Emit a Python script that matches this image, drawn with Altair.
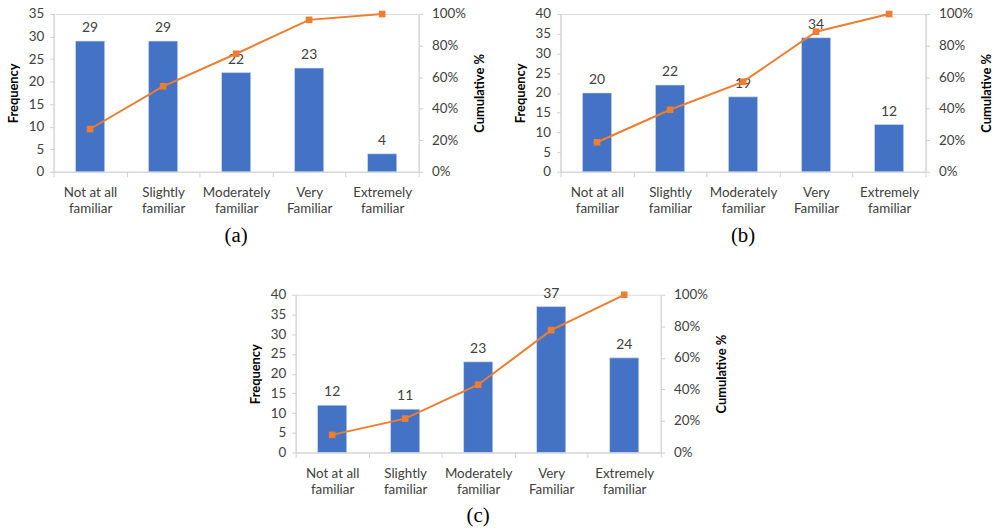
import altair as alt
import pandas as pd

# Response categories shared by all three panels
categories = [
    "Not at all familiar",
    "Slightly familiar",
    "Moderately familiar",
    "Very Familiar",
    "Extremely familiar",
]

# Frequencies per panel
freq_a = [29, 29, 22, 23, 4]
freq_b = [20, 22, 19, 34, 12]
freq_c = [12, 11, 23, 37, 24]

# Cumulative share per panel (0-1)
cum_a = [0.271, 0.542, 0.748, 0.963, 1.0]
cum_b = [0.187, 0.393, 0.570, 0.888, 1.0]
cum_c = [0.112, 0.215, 0.430, 0.776, 1.0]

# Left-axis maxima and captions
ymax = {"a": 35, "b": 40, "c": 40}
captions = {"a": "(a)", "b": "(b)", "c": "(c)"}

FONT = "Lato"
BAR = "#4472C4"
LINE = "#ED7D31"
AXIS_GREY = "#D0D0D0"
TEXT = "#404040"

PW, PH = 368, 159

label_expr = (
    "[slice(datum.label, 0, lastindexof(datum.label, ' ')), "
    "slice(datum.label, lastindexof(datum.label, ' ') + 1)]"
)


def panel(freq, cum, top, caption):
    df = pd.DataFrame({"cat": categories, "freq": freq, "cum": cum})
    x_enc = alt.X(
        "cat:N",
        sort=categories,
        scale=alt.Scale(paddingInner=0, paddingOuter=0),
        axis=alt.Axis(
            title=None,
            labelAngle=0,
            labelExpr=label_expr,
            labelFont=FONT,
            labelFontSize=13.5,
            labelColor=TEXT,
            labelPadding=9,
            labelLineHeight=16,
            tickBand="extent",
            tickColor=AXIS_GREY,
            tickSize=5,
            domainColor=AXIS_GREY,
        ),
    )
    y_left = alt.Y(
        "freq:Q",
        scale=alt.Scale(domain=[0, top], nice=False),
        axis=alt.Axis(
            title="Frequency",
            values=list(range(0, top + 1, 5)),
            grid=False,
            labelOverlap=False,
            labelFont=FONT,
            labelFontSize=13.5,
            labelColor=TEXT,
            labelPadding=6,
            tickColor=AXIS_GREY,
            tickSize=4,
            domainColor=AXIS_GREY,
            titleFont=FONT,
            titleFontSize=13,
            titleFontWeight="bold",
            titleColor="#000000",
            titlePadding=8,
        ),
    )
    y_right = alt.Y(
        "cum:Q",
        scale=alt.Scale(domain=[0, 1], nice=False),
        axis=alt.Axis(
            title="Cumulative %",
            orient="right",
            format=".0%",
            values=[0, 0.2, 0.4, 0.6, 0.8, 1.0],
            grid=False,
            labelOverlap=False,
            labelFont=FONT,
            labelFontSize=13.5,
            labelColor=TEXT,
            labelPadding=9,
            tickColor=AXIS_GREY,
            tickSize=4,
            domainColor=AXIS_GREY,
            titleFont=FONT,
            titleFontSize=13,
            titleFontWeight="bold",
            titleColor="#000000",
            titleAngle=270,
            titleBaseline="top",
            titlePadding=8,
        ),
    )
    left_base = alt.Chart(df).encode(x=x_enc, y=y_left)
    right_base = alt.Chart(df).encode(x=x_enc, y=y_right)

    bars = left_base.mark_bar(
        color=BAR, width=alt.RelativeBandSize(0.4), stroke="#DCE4F4", strokeWidth=0.6
    )
    nums = left_base.mark_text(
        font=FONT, fontSize=14, color=TEXT, dy=-13, baseline="middle"
    ).encode(text=alt.Text("freq:Q"))
    line = right_base.mark_line(color=LINE, strokeWidth=2)
    pts = right_base.mark_point(
        shape="square", filled=True, size=45, color=LINE, opacity=1
    )
    return (
        alt.layer(alt.layer(bars, nums), alt.layer(line, pts))
        .resolve_scale(y="independent")
        .properties(
            width=PW,
            height=PH,
            title=alt.TitleParams(
                caption,
                orient="bottom",
                anchor="middle",
                frame="group",
                font="Liberation Serif",
                fontSize=21,
                fontWeight="normal",
                color="#000000",
                offset=10,
            ),
        )
    )


pa = panel(freq_a, cum_a, ymax["a"], captions["a"])
pb = panel(freq_b, cum_b, ymax["b"], captions["b"])
pc = panel(freq_c, cum_c, ymax["c"], captions["c"])

# Invisible block that pushes the bottom panel towards the centre
spacer = (
    alt.Chart(pd.DataFrame({"v": [0]}))
    .mark_point(opacity=0)
    .encode(x=alt.X("v:Q", axis=None), y=alt.Y("v:Q", axis=None))
    .properties(width=165, height=10, view=alt.ViewConfig(stroke="transparent"))
)

chart = (
    alt.vconcat(
        alt.hconcat(pa, pb, spacing=26),
        alt.hconcat(spacer, pc, spacing=30),
        spacing=40,
    )
    .configure_view(stroke="transparent")
    .configure(background="#ffffff")
    .properties(padding={"left": 6, "top": 4, "right": 5, "bottom": 5})
)

chart.save("out.html", embed_options={"renderer": "svg", "actions": False})
